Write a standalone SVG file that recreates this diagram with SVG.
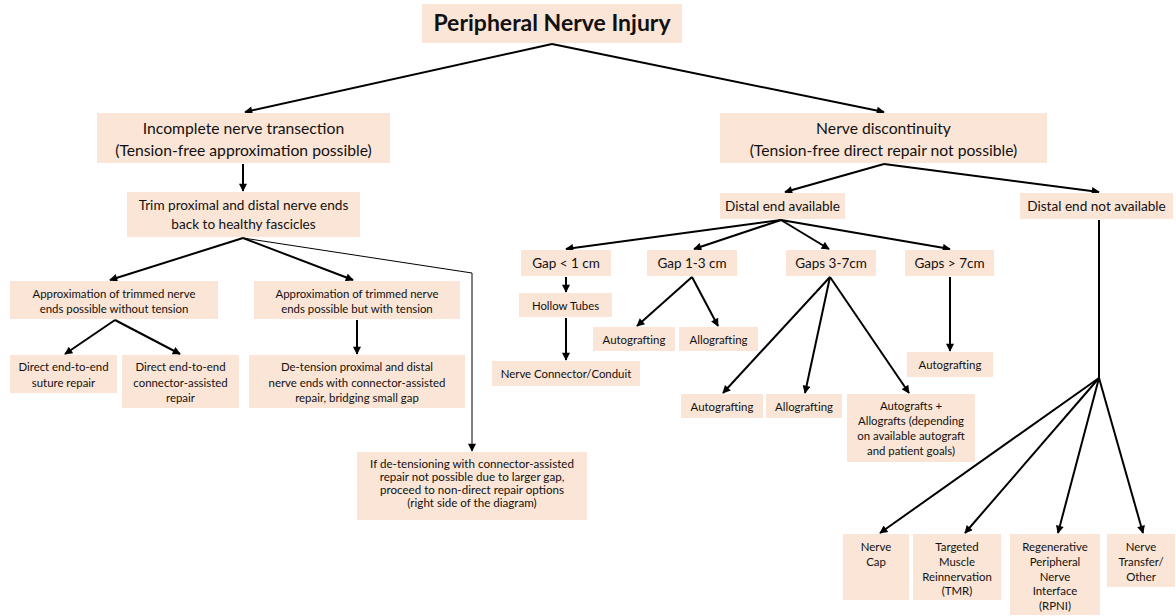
<svg xmlns="http://www.w3.org/2000/svg" width="1176" height="616" viewBox="0 0 1176 616">
<defs>
<style>
.b{fill:#FBE5D6;}
text{font-family:Lato,"Liberation Sans",sans-serif;fill:#111;text-anchor:middle;}
.t0{font-size:23px;font-weight:bold;}
.t1{font-size:15.7px;}
.t2{font-size:13.6px;}
.t3{font-size:11.6px;}
.t4{font-size:13.5px;}
.t5{font-size:11.4px;}
.c{stroke:#000;stroke-width:2;fill:none;}
.thin{stroke:#000;stroke-width:1;fill:none;}
</style>
<marker id="ah" viewBox="0 0 10 10" refX="9" refY="5" markerWidth="10" markerHeight="8" markerUnits="userSpaceOnUse" orient="auto"><path d="M0,0 L10,5 L0,10 z" fill="#000"/></marker>
</defs>
<rect width="1176" height="616" fill="#fff"/>
<g id="connectors">
<line class="c" x1="552" y1="44" x2="245" y2="112" marker-end="url(#ah)"/>
<line class="c" x1="552" y1="44" x2="884" y2="112" marker-end="url(#ah)"/>
<line class="c" x1="243" y1="164" x2="243" y2="191" marker-end="url(#ah)"/>
<line class="c" x1="243" y1="238" x2="110" y2="280" marker-end="url(#ah)"/>
<line class="c" x1="243" y1="238" x2="353" y2="280" marker-end="url(#ah)"/>
<path class="thin" d="M243,238 L472,273 L472,451" marker-end="url(#ah)"/>
<line class="c" x1="115" y1="320" x2="65" y2="354" marker-end="url(#ah)"/>
<line class="c" x1="115" y1="320" x2="180" y2="354" marker-end="url(#ah)"/>
<line class="c" x1="357" y1="320" x2="357" y2="354" marker-end="url(#ah)"/>
<line class="c" x1="884" y1="164" x2="785" y2="192" marker-end="url(#ah)"/>
<line class="c" x1="884" y1="164" x2="1099" y2="192" marker-end="url(#ah)"/>
<line class="c" x1="781" y1="220" x2="566" y2="249" marker-end="url(#ah)"/>
<line class="c" x1="781" y1="220" x2="694" y2="249" marker-end="url(#ah)"/>
<line class="c" x1="781" y1="220" x2="829" y2="249" marker-end="url(#ah)"/>
<line class="c" x1="781" y1="220" x2="950" y2="249" marker-end="url(#ah)"/>
<line class="c" x1="566" y1="277" x2="566" y2="292" marker-end="url(#ah)"/>
<line class="c" x1="566" y1="318" x2="566" y2="360" marker-end="url(#ah)"/>
<line class="c" x1="692" y1="277" x2="637" y2="326" marker-end="url(#ah)"/>
<line class="c" x1="692" y1="277" x2="718" y2="326" marker-end="url(#ah)"/>
<line class="c" x1="830" y1="277" x2="723" y2="393" marker-end="url(#ah)"/>
<line class="c" x1="830" y1="277" x2="805" y2="393" marker-end="url(#ah)"/>
<line class="c" x1="830" y1="277" x2="909" y2="393" marker-end="url(#ah)"/>
<line class="c" x1="950" y1="277" x2="950" y2="351" marker-end="url(#ah)"/>
<line class="c" x1="1099" y1="220" x2="1099" y2="378"/>
<line class="c" x1="1099" y1="378" x2="880" y2="533" marker-end="url(#ah)"/>
<line class="c" x1="1099" y1="378" x2="965" y2="533" marker-end="url(#ah)"/>
<line class="c" x1="1099" y1="378" x2="1058" y2="533" marker-end="url(#ah)"/>
<line class="c" x1="1099" y1="378" x2="1143" y2="533" marker-end="url(#ah)"/>
</g>
<g id="n-title"><rect class="b" x="422" y="4" width="260" height="39"/><text class="t0" x="552" y="31">Peripheral Nerve Injury</text></g>
<g id="n-incomplete"><rect class="b" x="97" y="113" width="293" height="50"/><text class="t1" x="243.5" y="134">Incomplete nerve transection</text><text class="t1" x="243.5" y="156">(Tension-free approximation possible)</text></g>
<g id="n-discontinuity"><rect class="b" x="720" y="113" width="327" height="50"/><text class="t1" x="883.5" y="134">Nerve discontinuity</text><text class="t1" x="883.5" y="156">(Tension-free direct repair not possible)</text></g>
<g id="n-trim"><rect class="b" x="127" y="192" width="233" height="45"/><text class="t2" x="243.5" y="210">Trim proximal and distal nerve ends</text><text class="t2" x="243.5" y="229">back to healthy fascicles</text></g>
<g id="n-approx-free"><rect class="b" x="10" y="281" width="208" height="38"/><text class="t5" x="114" y="298">Approximation of trimmed nerve</text><text class="t5" x="114" y="313">ends possible without tension</text></g>
<g id="n-approx-tension"><rect class="b" x="254" y="281" width="206" height="38"/><text class="t5" x="357" y="298">Approximation of trimmed nerve</text><text class="t5" x="357" y="313">ends possible but with tension</text></g>
<g id="n-suture"><rect class="b" x="10" y="355" width="107" height="38"/><text class="t5" x="63.5" y="371">Direct end-to-end</text><text class="t5" x="63.5" y="387">suture repair</text></g>
<g id="n-connector"><rect class="b" x="122" y="355" width="117" height="53"/><text class="t5" x="180.5" y="371">Direct end-to-end</text><text class="t5" x="180.5" y="387">connector-assisted</text><text class="t5" x="180.5" y="402">repair</text></g>
<g id="n-detension"><rect class="b" x="249" y="355" width="216" height="53"/><text class="t5" x="357" y="371">De-tension proximal and distal</text><text class="t5" x="357" y="387">nerve ends with connector-assisted</text><text class="t5" x="357" y="402">repair, bridging small gap</text></g>
<g id="n-if"><rect class="b" x="357" y="452" width="230" height="68"/><text class="t3" x="472" y="468">If de-tensioning with connector-assisted</text><text class="t3" x="472" y="481">repair not possible due to larger gap,</text><text class="t3" x="472" y="494">proceed to non-direct repair options</text><text class="t3" x="472" y="507">(right side of the diagram)</text></g>
<g id="n-distal-avail"><rect class="b" x="720" y="193" width="125" height="26"/><text class="t2" x="782.5" y="211">Distal end available</text></g>
<g id="n-distal-not"><rect class="b" x="1020" y="193" width="153" height="26"/><text class="t2" x="1096.5" y="211">Distal end not available</text></g>
<g id="n-gap1"><rect class="b" x="521" y="250" width="90" height="26"/><text class="t4" x="566" y="268">Gap &lt; 1 cm</text></g>
<g id="n-gap13"><rect class="b" x="647" y="250" width="90" height="26"/><text class="t4" x="692" y="268">Gap 1-3 cm</text></g>
<g id="n-gap37"><rect class="b" x="786" y="250" width="90" height="26"/><text class="t4" x="831" y="268">Gaps 3-7cm</text></g>
<g id="n-gap7"><rect class="b" x="905" y="250" width="89" height="26"/><text class="t4" x="949.5" y="268">Gaps &gt; 7cm</text></g>
<g id="n-hollow"><rect class="b" x="519" y="293" width="93" height="24"/><text class="t5" x="565.5" y="310">Hollow Tubes</text></g>
<g id="n-conduit"><rect class="b" x="492" y="361" width="148" height="25"/><text class="t5" x="566" y="378">Nerve Connector/Conduit</text></g>
<g id="n-auto1"><rect class="b" x="593" y="327" width="82" height="24"/><text class="t5" x="634" y="344">Autografting</text></g>
<g id="n-allo1"><rect class="b" x="679" y="327" width="79" height="24"/><text class="t5" x="718.5" y="344">Allografting</text></g>
<g id="n-auto2"><rect class="b" x="681" y="394" width="82" height="24"/><text class="t5" x="722" y="411">Autografting</text></g>
<g id="n-allo2"><rect class="b" x="766" y="394" width="76" height="24"/><text class="t5" x="804" y="411">Allografting</text></g>
<g id="n-both"><rect class="b" x="847" y="394" width="128" height="68"/><text class="t5" x="911" y="410">Autografts +</text><text class="t5" x="911" y="425">Allografts (depending</text><text class="t5" x="911" y="440">on available autograft</text><text class="t5" x="911" y="455">and patient goals)</text></g>
<g id="n-auto3"><rect class="b" x="907" y="352" width="86" height="25"/><text class="t5" x="950" y="369">Autografting</text></g>
<g id="n-cap"><rect class="b" x="843" y="534" width="66" height="66"/><text class="t5" x="876" y="551">Nerve</text><text class="t5" x="876" y="566">Cap</text></g>
<g id="n-tmr"><rect class="b" x="913" y="534" width="88" height="66"/><text class="t5" x="957" y="551">Targeted</text><text class="t5" x="957" y="566">Muscle</text><text class="t5" x="957" y="581">Reinnervation</text><text class="t5" x="957" y="595">(TMR)</text></g>
<g id="n-rpni"><rect class="b" x="1010" y="534" width="90" height="81"/><text class="t5" x="1055" y="551">Regenerative</text><text class="t5" x="1055" y="566">Peripheral</text><text class="t5" x="1055" y="581">Nerve</text><text class="t5" x="1055" y="595">Interface</text><text class="t5" x="1055" y="610">(RPNI)</text></g>
<g id="n-transfer"><rect class="b" x="1107" y="534" width="68" height="53"/><text class="t5" x="1141" y="551">Nerve</text><text class="t5" x="1141" y="566">Transfer/</text><text class="t5" x="1141" y="581">Other</text></g>
</svg>
